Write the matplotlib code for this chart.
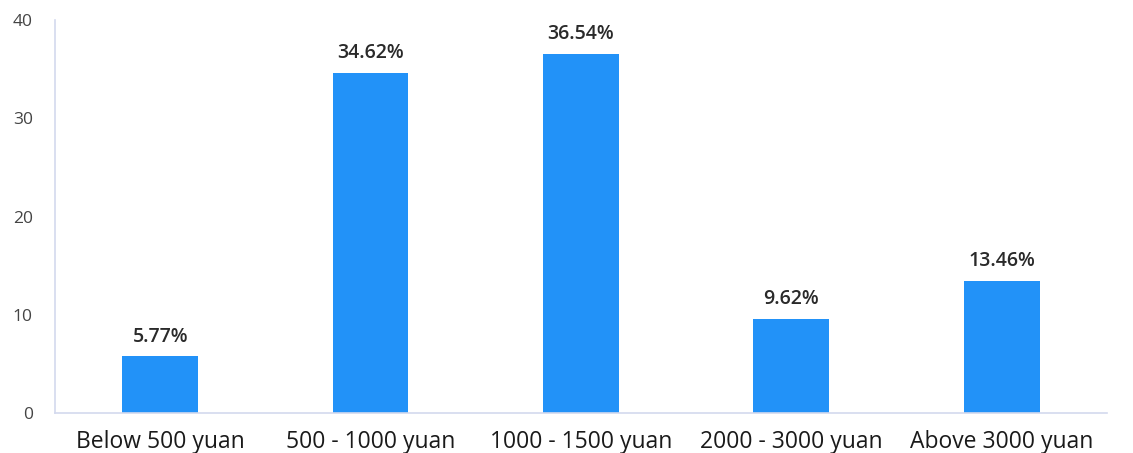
import matplotlib.pyplot as plt

plt.rcParams['font.family'] = ['Open Sans', 'DejaVu Sans']

BAR_BLUE = '#2292F8'
AXIS_COLOR = '#D3D9EE'

categories = ['Below 500 yuan', '500 - 1000 yuan', '1000 - 1500 yuan',
              '2000 - 3000 yuan', 'Above 3000 yuan']
shares = [5.77, 34.62, 36.54, 9.62, 13.46]
y_ticks = [0, 10, 20, 30, 40]

fig = plt.figure(figsize=(11.33, 4.53), dpi=100)
ax = fig.add_axes([0.0485, 0.088, 0.9285, 0.868])

x = range(len(categories))
bars = ax.bar(x, shares, width=0.36, color=BAR_BLUE, zorder=2)

for xi, val in zip(x, shares):
    ax.text(xi, val + 1.0, f'{val:.2f}%', ha='center', va='bottom',
            fontsize=14, color='#2a2a2a', fontweight='semibold')

ax.set_xlim(-0.5, len(categories) - 0.5)
ax.set_ylim(0, 40)
ax.set_yticks(y_ticks)
ax.set_xticks(list(x))
ax.set_xticklabels(categories, fontsize=16.5, color='#1a1a1a')
ax.tick_params(axis='x', length=0, pad=12)
ax.tick_params(axis='y', length=0, pad=16, labelsize=12.5, labelcolor='#444444')

for side in ['top', 'right']:
    ax.spines[side].set_visible(False)
for side in ['left', 'bottom']:
    ax.spines[side].set_color(AXIS_COLOR)
    ax.spines[side].set_linewidth(1.2)

fig.savefig('out.png', dpi=100, facecolor='white')
